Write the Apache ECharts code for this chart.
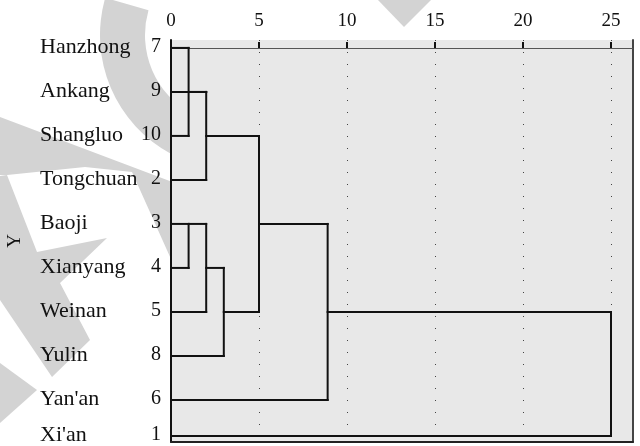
<!DOCTYPE html>
<html>
<head>
<meta charset="utf-8">
<script src="https://cdn.jsdelivr.net/npm/echarts@6/dist/echarts.min.js"></script>
<style>
  html, body { margin: 0; padding: 0; background: #ffffff; }
  #chart { width: 640px; height: 446px; }
</style>
</head>
<body>
<div id="chart"></div>
<script>
// ---- data ----
const leafNames = ["Hanzhong", "Ankang", "Shangluo", "Tongchuan", "Baoji", "Xianyang", "Weinan", "Yulin", "Yan'an", "Xi'an"];
const caseNumbers = [7, 9, 10, 2, 3, 4, 5, 8, 6, 1];
// agglomeration steps (leaf index 0..9, merged cluster k gets id 10+k)
const joinA = [0, 4, 10, 12, 11, 14, 13, 16, 17];
const joinB = [2, 5, 1, 3, 6, 7, 15, 8, 9];
const joinDistance = [1, 1, 2, 2, 2, 3, 5, 8.9, 25];
const xTickValues = [0, 5, 10, 15, 20, 25];
const axisNameY = "Y";

// ---- layout helpers ----
const LAST_ROW_POS = 8.82;   // last row sits slightly higher (clipped panel)
const rowPos = r => (r >= leafNames.length - 1 ? LAST_ROW_POS : r);

// build dendrogram segments in data space
const clusters = leafNames.map((_, i) => ({ row: i, x: 0 }));
const segments = [];
joinA.forEach((a, k) => {
  const A = clusters[a], B = clusters[joinB[k]], h = joinDistance[k];
  segments.push([A.x, rowPos(A.row), h, rowPos(A.row)]);
  segments.push([B.x, rowPos(B.row), h, rowPos(B.row)]);
  segments.push([h, rowPos(A.row), h, rowPos(B.row)]);
  clusters.push({ row: Math.floor((A.row + B.row) / 2), x: h });
});
const labelData = leafNames.map((n, i) => [0, rowPos(i), i]);

const SERIF = '"Liberation Serif", "Times New Roman", serif';
const WM = '#d3d3d3';

const chart = echarts.init(document.getElementById('chart'), null, { renderer: 'canvas' });
chart.setOption({
  animation: false,
  backgroundColor: '#ffffff',
  graphic: [
    { type: 'sector', z: -5, silent: true,
      shape: { cx: 235, cy: 35, r: 135, r0: 90, startAngle: 118 * Math.PI / 180, endAngle: 196 * Math.PI / 180, clockwise: true },
      style: { fill: WM } },
    { type: 'polygon', z: -5, silent: true,
      shape: { points: [[0, 117], [175, 183], [175, 268], [132, 172], [85, 167], [7, 175], [0, 175]] }, style: { fill: WM } },
    { type: 'polygon', z: -5, silent: true,
      shape: { points: [[0, 176], [7, 175], [37, 252], [107, 238], [60, 283], [90, 340], [52, 377], [0, 300]] }, style: { fill: WM } },
    { type: 'polygon', z: -5, silent: true,
      shape: { points: [[0, 363], [37, 390], [0, 423]] }, style: { fill: WM } },
    { type: 'polygon', z: -5, silent: true,
      shape: { points: [[378, 0], [431, 0], [404, 27]] }, style: { fill: WM } }
  ],
  grid: {
    left: 171, top: 40, width: 462, height: 402,
    containLabel: false, outerBoundsMode: 'none',
    show: true, backgroundColor: '#e8e8e8', borderWidth: 0
  },
  xAxis: [
    {
      type: 'value', position: 'top', min: 0, max: 26.25, interval: 5,
      axisLine: { show: true, lineStyle: { color: '#555', width: 1 } },
      axisTick: { show: true, inside: false, length: 6, customValues: xTickValues, lineStyle: { color: '#111', width: 2 } },
      axisLabel: { show: true, customValues: xTickValues, margin: 9, color: '#111', fontSize: 19, fontFamily: SERIF },
      splitLine: { show: true, lineStyle: { color: '#444', width: 1, type: [1, 11] } }
    },
    {
      type: 'value', position: 'bottom', min: 0, max: 26.25,
      axisLine: { show: true, onZero: false, lineStyle: { color: '#222', width: 2 } },
      axisTick: { show: false }, axisLabel: { show: false }, splitLine: { show: false }
    }
  ],
  yAxis: [
    {
      type: 'value', inverse: true, min: -0.18, max: 8.956, position: 'left',
      name: axisNameY, nameLocation: 'middle', nameGap: 146, nameRotate: 90,
      nameTextStyle: { color: '#111', fontSize: 19, fontFamily: SERIF },
      axisLine: { show: true, onZero: false, lineStyle: { color: '#111', width: 2 } },
      axisTick: { show: false }, axisLabel: { show: false }, splitLine: { show: false }
    },
    {
      type: 'value', inverse: true, min: -0.18, max: 8.956, position: 'right',
      axisLine: { show: true, onZero: false, lineStyle: { color: '#444', width: 2 } },
      axisTick: { show: false }, axisLabel: { show: false }, splitLine: { show: false }
    }
  ],
  series: [
    {
      type: 'custom', name: 'dendrogram', xAxisIndex: 0, yAxisIndex: 0, clip: false,
      data: segments,
      encode: { x: [0, 2], y: [1, 3] },
      renderItem: function (params, api) {
        const p1 = api.coord([api.value(0), api.value(1)]);
        const p2 = api.coord([api.value(2), api.value(3)]);
        return {
          type: 'line',
          shape: { x1: p1[0], y1: p1[1], x2: p2[0], y2: p2[1] },
          style: { stroke: '#111', lineWidth: 2, lineCap: 'square' }
        };
      }
    },
    {
      type: 'custom', name: 'labels', xAxisIndex: 0, yAxisIndex: 0, clip: false,
      data: labelData,
      encode: { x: 0, y: 1 },
      renderItem: function (params, api) {
        const p = api.coord([api.value(0), api.value(1)]);
        const i = api.value(2);
        return {
          type: 'group',
          children: [
            { type: 'text', x: p[0] - 131, y: p[1] - 1,
              style: { text: leafNames[i], fill: '#111', fontSize: 22, fontFamily: SERIF, align: 'left', verticalAlign: 'middle' } },
            { type: 'text', x: p[0] - 10, y: p[1] - 1,
              style: { text: String(caseNumbers[i]), fill: '#111', fontSize: 20, fontFamily: SERIF, align: 'right', verticalAlign: 'middle' } }
          ]
        };
      }
    }
  ]
});
</script>
</body>
</html>
